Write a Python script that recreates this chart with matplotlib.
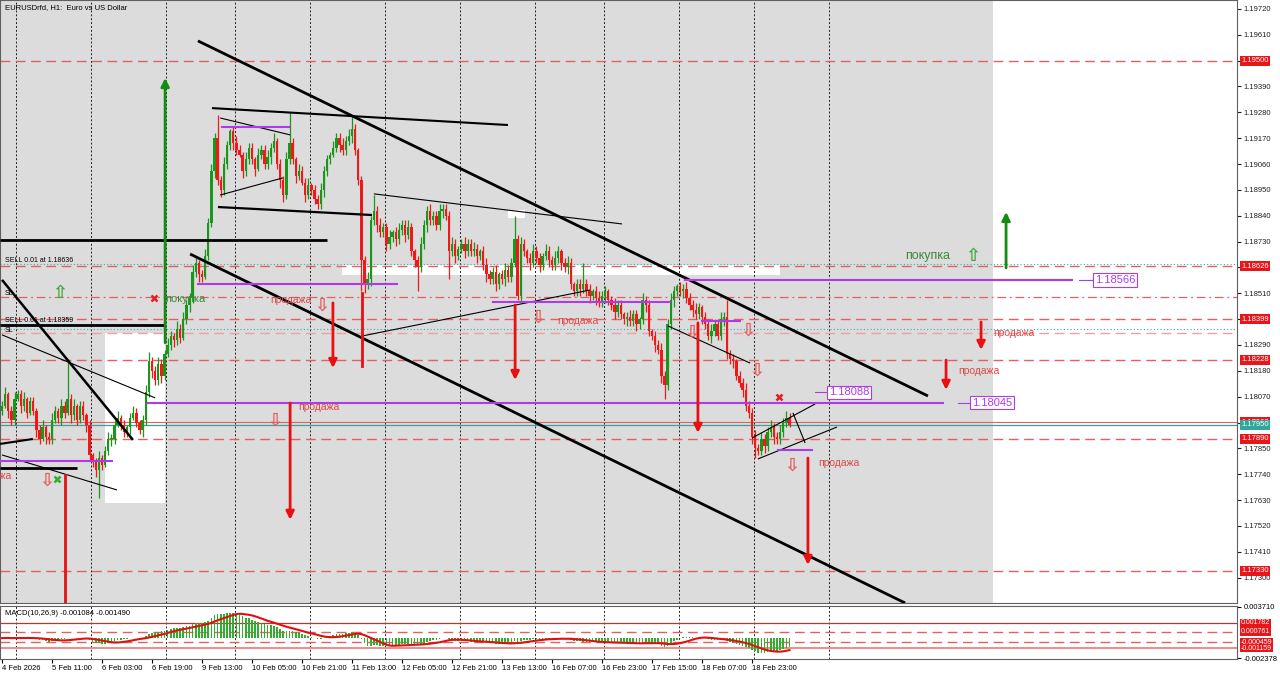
import numpy as np
import pandas as pd
import matplotlib
matplotlib.use("Agg")
import matplotlib.pyplot as plt
from matplotlib.patches import Rectangle

plt.rcParams['font.family'] = ['Liberation Sans', 'DejaVu Sans']

# ---------------- data ----------------
first_open = 1.1801
closes = [
1.1803, 1.1808, 1.1801, 1.1797, 1.1806, 1.1808, 1.1803, 1.1806, 1.1800, 1.1805,
1.1801, 1.1793, 1.1789, 1.1794, 1.1790, 1.1789, 1.1797, 1.1801, 1.1798, 1.1803,
1.1800, 1.1806, 1.1799, 1.1803, 1.1797, 1.1803, 1.1799, 1.1795, 1.1782, 1.1779,
1.1776, 1.1781, 1.1778, 1.1784, 1.1789, 1.1789, 1.1795, 1.1798, 1.1795, 1.1792,
1.1794, 1.1798, 1.1800, 1.1796, 1.1793, 1.1797, 1.1809, 1.1822, 1.1818, 1.1814,
1.1821, 1.1816, 1.1825, 1.1829, 1.1833, 1.1831, 1.1836, 1.1832, 1.1840, 1.1846,
1.1849, 1.1860, 1.1864, 1.1859, 1.1858, 1.1867, 1.1881, 1.1903, 1.1917, 1.1899,
1.1895, 1.1906, 1.1914, 1.1920, 1.1915, 1.1912, 1.1910, 1.1903, 1.1908, 1.1913,
1.1908, 1.1904, 1.1910, 1.1912, 1.1906, 1.1909, 1.1913, 1.1916, 1.1906, 1.1899,
1.1893, 1.1908, 1.1915, 1.1908, 1.1901, 1.1903, 1.1898, 1.1893, 1.1897, 1.1895,
1.1891, 1.1889, 1.1895, 1.1903, 1.1908, 1.1910, 1.1913, 1.1917, 1.1914, 1.1912,
1.1916, 1.1918, 1.1921, 1.1912, 1.1899, 1.1865, 1.1855, 1.1857, 1.1882, 1.1886,
1.1880, 1.1877, 1.1879, 1.1872, 1.1875, 1.1877, 1.1874, 1.1878, 1.1880, 1.1876,
1.1879, 1.1869, 1.1865, 1.1862, 1.1872, 1.1880, 1.1886, 1.1882, 1.1884, 1.1880,
1.1886, 1.1887, 1.1884, 1.1869, 1.1872, 1.1867, 1.1870, 1.1872, 1.1869, 1.1872,
1.1869, 1.1870, 1.1867, 1.1869, 1.1863, 1.1859, 1.1857, 1.1860, 1.1855, 1.1859,
1.1857, 1.1861, 1.1858, 1.1864, 1.1874, 1.1850, 1.1872, 1.1869, 1.1866, 1.1864,
1.1869, 1.1866, 1.1863, 1.1867, 1.1869, 1.1865, 1.1863, 1.1866, 1.1869, 1.1864,
1.1862, 1.1864, 1.1855, 1.1852, 1.1855, 1.1853, 1.1855, 1.1852, 1.1850, 1.1852,
1.1849, 1.1847, 1.1850, 1.1852, 1.1848, 1.1846, 1.1843, 1.1846, 1.1842, 1.1840,
1.1841, 1.1839, 1.1842, 1.1838, 1.1840, 1.1848, 1.1846, 1.1835, 1.1833, 1.1829,
1.1827, 1.1816, 1.1812, 1.1838, 1.1848, 1.1852, 1.1854, 1.1852, 1.1853, 1.1849,
1.1846, 1.1844, 1.1842, 1.1845, 1.1841, 1.1838, 1.1833, 1.1835, 1.1838, 1.1833,
1.1840, 1.1841, 1.1825, 1.1823, 1.1822, 1.1816, 1.1813, 1.1810, 1.1803, 1.1800,
1.1790, 1.1785, 1.1784, 1.1789, 1.1786, 1.1792, 1.1794, 1.1790, 1.1789, 1.1792,
1.1796, 1.1798, 1.1795]

# wick lengths in pips (0.0001)
up_wick = [
2,3,1,2,3,2,2,3,1,2, 2,1,2,3,1,2,3,2,1,3, 2,16,2,3,1,2,2,1,2,1,
2,3,1,2,3,2,2,3,1,2, 1,2,3,2,1,2,3,4,2,2, 3,2,2,3,2,1,3,2,3,2,
2,3,2,1,2,3,2,3,2,10, 2,3,2,1,2,3,2,1,3,2, 2,1,3,2,2,3,2,3,1,2,
2,3,13,2,1,3,2,2,3,1, 2,2,3,2,2,1,3,2,2,3, 2,3,5,2,1,2,2,3,2,7,
2,3,2,2,3,1,2,3,2,2, 3,2,1,2,3,2,2,3,2,2, 3,2,2,2,3,2,1,2,3,2,
2,3,2,1,2,3,2,2,3,1, 2,3,2,2,10,2,3,2,1,2, 3,2,2,1,3,2,2,3,2,1,
2,3,2,1,2,2,9,2,3,1, 2,3,2,2,1,2,3,2,2,1, 2,3,2,2,1,3,2,2,1,2,
2,3,2,2,3,2,1,2,2,3, 2,2,3,2,1,2,2,3,2,2, 3,2,7,2,2,1,2,2,3,2,
2,3,2,3,2,2,3,2,2,3, 2,3,2]
down_wick = [
2,1,3,2,2,1,3,2,2,1, 2,3,2,1,3,2,2,1,2,3, 2,1,3,2,2,1,2,3,2,2,
3,12,2,1,2,3,2,1,2,2, 2,3,1,2,2,3,2,2,3,2, 2,3,2,1,2,3,2,2,1,2,
3,2,2,3,2,1,2,2,3,2, 3,2,2,2,3,2,1,3,2,2, 2,3,1,2,2,2,3,2,2,3,
3,2,2,2,3,2,1,3,2,2, 2,2,2,3,2,2,1,2,3,2, 2,2,3,2,2,13,4,2,3,2,
3,2,2,3,2,2,3,2,2,3, 2,2,3,10,2,2,3,2,2,2, 2,3,2,12,2,3,2,2,3,2,
2,2,3,2,2,3,2,2,3,2, 2,3,2,2,2,2,3,2,2,3, 2,2,3,2,2,3,2,2,2,3,
2,3,2,2,2,3,2,2,3,2, 3,2,2,3,2,2,3,2,2,2, 3,2,2,3,2,2,3,2,2,3,
2,3,6,2,2,3,2,2,3,2, 2,3,2,2,3,2,2,3,2,2, 2,3,2,2,3,2,2,3,2,2,
3,4,2,2,3,2,2,3,2,2, 2,2,1]

time_labels = ["4 Feb 2026", "5 Feb 11:00", "6 Feb 03:00", "6 Feb 19:00", "9 Feb 13:00",
               "10 Feb 05:00", "10 Feb 21:00", "11 Feb 13:00", "12 Feb 05:00", "12 Feb 21:00",
               "13 Feb 13:00", "16 Feb 07:00", "16 Feb 23:00", "17 Feb 15:00", "18 Feb 07:00",
               "18 Feb 23:00"]
time_label_bars = [0, 16, 32, 48, 64, 80, 96, 112, 128, 144, 160, 176, 192, 208, 224, 240]
day_separators = [4.5, 28.5, 52.5, 74.5, 98.5, 122.5, 146.5, 170.5, 192.5, 216.5, 240.5, 264.5]

price_ticks = [1.19720, 1.19610, 1.19500, 1.19390, 1.19280, 1.19170, 1.19060, 1.18950,
               1.18840, 1.18730, 1.18620, 1.18510, 1.18400, 1.18290, 1.18180, 1.18070,
               1.17960, 1.17850, 1.17740, 1.17630, 1.17520, 1.17410, 1.17300]
hidden_tick_labels = [1.19500, 1.18620, 1.18400, 1.17960]

macd_caption = "MACD(10,26,9) -0.001084 -0.001490"

# horizontal levels: (price, kind)
levels = [(1.19500, 'dash'), (1.18626, 'dash'), (1.18636, 'dot'), (1.18494, 'dashdot'),
          (1.18399, 'dash'), (1.18359, 'dot'), (1.18341, 'lightdash'), (1.18228, 'dash'),
          (1.17962, 'solid'), (1.17950, 'teal'), (1.17890, 'dash'), (1.17330, 'dash')]
level_boxes = [(1.19500, 'red'), (1.18626, 'red'), (1.18399, 'red'), (1.18228, 'red'),
               (1.17962, 'red'), (1.17950, 'teal'), (1.17890, 'red'), (1.17330, 'red')]

# trend lines: (bar1, price1, bar2, price2, width)
trend_lines = [
    (62.7, 1.19584, 296.3, 1.18073, 2.0),
    (60.2, 1.18677, 289.0, 1.17192, 2.0),
    (-0.6, 1.18737, 104.0, 1.18737, 2.0),
    (-0.6, 1.18375, 52.2, 1.18375, 2.0),
    (-0.6, 1.17767, 24.0, 1.17767, 2.0),
    (0.0, 1.18567, 41.9, 1.17886, 1.8),
    (0.0, 1.18333, 49.0, 1.18065, 0.8),
    (0.0, 1.17822, 36.8, 1.17673, 0.8),
    (-0.6, 1.17869, 9.9, 1.17890, 1.5),
    (69.8, 1.19256, 92.2, 1.19184, 0.8),
    (69.8, 1.18928, 89.9, 1.19001, 0.8),
    (67.2, 1.19298, 161.9, 1.19226, 1.5),
    (69.1, 1.18877, 118.4, 1.18843, 1.6),
    (119.0, 1.18933, 198.4, 1.18805, 0.8),
    (115.2, 1.18328, 188.2, 1.18524, 0.8),
    (213.1, 1.18371, 239.4, 1.18213, 0.8),
    (240.0, 1.17894, 260.2, 1.18039, 0.8),
    (241.9, 1.17805, 267.2, 1.17941, 0.8),
    (253.1, 1.18001, 257.0, 1.17873, 0.8),
]

# purple levels: (bar1, bar2, price)
purple_levels = [(-0.6, 35.2, 1.17796), (46.7, 301.1, 1.18045), (62.7, 126.4, 1.18550),
                 (70.4, 91.8, 1.19218), (157.1, 213.8, 1.18473), (218.6, 342.4, 1.18566),
                 (224.0, 236.2, 1.18392), (248.3, 259.2, 1.17843)]
# purple price tags: (leader start bar, tag bar, price)
purple_tags = [(344.6, 349.8, 1.18566), (305.9, 310.4, 1.18045), (260.2, 264.6, 1.18088)]

# solid arrows: (bar, price_from, price_to, colour, head)
solid_arrows = [
    (92.2, 1.18043, 1.17546, 'red', True),
    (105.9, 1.18469, 1.18192, 'red', True),
    (164.2, 1.18460, 1.18141, 'red', True),
    (222.7, 1.18384, 1.17916, 'red', True),
    (313.3, 1.18388, 1.18269, 'red', True),
    (302.1, 1.18226, 1.18099, 'red', True),
    (257.9, 1.17809, 1.17354, 'red', True),
    (20.2, 1.17737, 1.17100, 'red', False),
    (115.2, 1.18511, 1.18201, 'red', False),
    (52.2, 1.18299, 1.19426, 'green', True),
    (321.3, 1.18618, 1.18856, 'green', True),
]
# hollow arrows: (bar, price, direction)
hollow_arrows = [(18.6, 1.18511, 'up'), (14.4, 1.17711, 'down'), (87.4, 1.17967, 'down'),
                 (102.4, 1.18456, 'down'), (171.5, 1.18405, 'down'), (220.8, 1.18341, 'down'),
                 (238.7, 1.18350, 'down'), (241.6, 1.18179, 'down'), (252.8, 1.17775, 'down'),
                 (310.7, 1.18669, 'up')]
crosses = [(48.6, 1.18490, 'red'), (248.6, 1.18069, 'red'), (17.6, 1.17720, 'green')]
sell_texts = [(85.8, 1.18482), (94.7, 1.18026), (177.6, 1.18392), (317.1, 1.18341),
              (305.9, 1.18179), (261.1, 1.17788), (-10.2, 1.17733)]
buy_texts = [(52.2, 1.18486, 8), (289.0, 1.18669, 9)]
white_boxes = [(33.0, 52.2, 1.17618, 1.18341), (108.8, 249.0, 1.18588, 1.18631),
               (161.9, 167.4, 1.18830, 1.18865)]
gray_until_bar = 317.1

macd_levels = [(0.001782, 'solid'), (0.000761, 'dash'), (-0.000459, 'dash'), (-0.001159, 'light')]

# ---------------- colours ----------------
BULL = '#1a961a'
BEAR = '#f01818'
PURPLE = '#b03ae8'
TEAL = '#2fa79a'
DASH_RED = '#e36060'

# ---------------- figure ----------------
W, H = 1280, 676
fig = plt.figure(figsize=(W / 100, H / 100), dpi=100)
ax = fig.add_axes([0.0, (H - 603) / H, 1237 / W, 603 / H])
axm = fig.add_axes([0.0, (H - 659) / H, 1237 / W, 53 / H], sharex=ax)

xmin, xmax = -0.64, 395.2
ax.set_xlim(xmin, xmax)
ax.set_ylim(1.17192, 1.19758)
ax.set_facecolor('white')
ax.axvspan(xmin, gray_until_bar, color='#dcdcdc', zorder=0, lw=0)

for b0, b1, p0, p1 in white_boxes:
    ax.add_patch(Rectangle((b0, p0), b1 - b0, p1 - p0, facecolor='white', edgecolor='none', zorder=0.5))

for d in day_separators:
    ax.axvline(d, color='#202020', lw=0.7, ls=(0, (2, 2)), zorder=1)
    axm.axvline(d, color='#202020', lw=0.7, ls=(0, (2, 2)), zorder=1)

for p, kind in levels:
    if kind == 'dash':
        ax.axhline(p, color=DASH_RED, lw=1.0, ls=(0, (7, 4)), zorder=1.2)
    elif kind == 'lightdash':
        ax.axhline(p, color='#f0a0a0', lw=1.0, ls=(0, (7, 4)), zorder=1.2)
    elif kind == 'dashdot':
        ax.axhline(p, color=DASH_RED, lw=0.9, ls=(0, (7, 3, 1.5, 3)), zorder=1.2)
    elif kind == 'dot':
        ax.axhline(p, color='#3aaabb', lw=0.8, ls=(0, (1, 2)), zorder=1.2)
    elif kind == 'solid':
        ax.axhline(p, color='#e06060', lw=0.8, zorder=1.2)
    elif kind == 'teal':
        ax.axhline(p, color=TEAL, lw=0.9, zorder=1.2)

# candles
n = len(closes)
opens = [first_open] + closes[:-1]
idx = np.arange(n)
for i in range(n):
    o, c = opens[i], closes[i]
    col = BULL if c >= o else BEAR
    hi = max(o, c) + up_wick[i] * 0.0001
    lo = min(o, c) - down_wick[i] * 0.0001
    ax.vlines(i, lo, hi, color=col, lw=0.9, zorder=3)
    body = max(abs(c - o), 0.00003)
    ax.bar(i, body, bottom=min(o, c), width=0.75, color=col, lw=0, zorder=3.1)

for b1, p1, b2, p2, w in trend_lines:
    ax.plot([b1, b2], [p1, p2], color='black', lw=w, zorder=4, solid_capstyle='butt')

for b1, b2, p in purple_levels:
    ax.plot([b1, b2], [p, p], color=PURPLE, lw=1.5, zorder=4)
for b_lead, b_tag, p in purple_tags:
    ax.plot([b_lead, b_tag], [p, p], color=PURPLE, lw=0.8, zorder=4)
    ax.text(b_tag, p, f"{p:.5f}", color=PURPLE, fontsize=8, va='center', ha='left', zorder=6,
            bbox=dict(boxstyle='square,pad=0.15', fc='white', ec=PURPLE, lw=0.8))

for b, pf, pt, col, head in solid_arrows:
    c_ = '#e81010' if col == 'red' else '#138c13'
    if head:
        ax.annotate('', xy=(b, pt), xytext=(b, pf),
                    arrowprops=dict(arrowstyle='-|>', color=c_, lw=2.0, mutation_scale=12,
                                    shrinkA=0, shrinkB=0), zorder=5)
    else:
        ax.plot([b, b], [pf, pt], color=c_, lw=2.0, zorder=5)

for b, p, d in hollow_arrows:
    sym = '\u21e7' if d == 'up' else '\u21e9'
    col = '#3da83d' if d == 'up' else '#e85c5c'
    ax.text(b, p, sym, color=col, fontsize=13, ha='center', va='center', zorder=6,
            family=['DejaVu Sans'], fontweight='bold')

for b, p, col in crosses:
    ax.plot([b], [p], marker='x', ms=5, mew=1.8, color='#e02020' if col == 'red' else '#30b030', zorder=6)

for b, p in sell_texts:
    ax.text(b, p, 'продажа', color='#e04848', fontsize=7.5, ha='left', va='center', zorder=6)
for b, p, fs in buy_texts:
    ax.text(b, p, 'покупка', color='#3a8a3a', fontsize=fs, ha='left', va='center', zorder=6)

ax.text(0.004, 0.987, 'EURUSDrfd, H1:  Euro vs US Dollar', transform=ax.transAxes,
        fontsize=5.5, va='center', ha='left', color='black', zorder=7)
ax.text(1.0, 1.18636, 'SELL 0.01 at 1.18636', fontsize=5, va='bottom', ha='left', color='black', zorder=7)
ax.text(1.0, 1.18380, 'SELL 0.01 at 1.18359', fontsize=5, va='bottom', ha='left', color='black', zorder=7)
ax.text(1.0, 1.18494, 'SL', fontsize=5, va='bottom', ha='left', color='black', zorder=7)
ax.text(1.0, 1.18365, 'SL', fontsize=5, va='top', ha='left', color='black', zorder=7)

# right price axis
ax.yaxis.tick_right()
ax.set_yticks(price_ticks)
ax.set_yticklabels(["" if t in hidden_tick_labels else f"{t:.5f}" for t in price_ticks])
ax.tick_params(axis='y', labelsize=5.5, length=3, pad=2, colors='#202020')
ax.tick_params(axis='x', bottom=False, labelbottom=False)
for s in ax.spines.values():
    s.set_color('#606060'); s.set_linewidth(0.8)

for p, kind in level_boxes:
    fc = '#e8161a' if kind == 'red' else TEAL
    ax.annotate(f"{p:.5f}", xy=(1.0, p), xycoords=('axes fraction', 'data'),
                xytext=(3, 0), textcoords='offset points', fontsize=5.5, color='white',
                va='center', ha='left', annotation_clip=False, zorder=8,
                bbox=dict(boxstyle='square,pad=0.2', fc=fc, ec='none'))

# ---------------- MACD ----------------
s = pd.Series(closes)
macd = s.ewm(span=10, adjust=False).mean() - s.ewm(span=26, adjust=False).mean()
signal = macd.rolling(9, min_periods=1).mean()

axm.set_ylim(-0.00245, 0.00378)
axm.set_facecolor('white')
for p, kind in macd_levels:
    if kind == 'solid':
        axm.axhline(p, color='#c83030', lw=0.9, zorder=1)
    elif kind == 'dash':
        axm.axhline(p, color=DASH_RED, lw=1.0, ls=(0, (7, 4)), zorder=1)
    else:
        axm.axhline(p, color='#f08a8a', lw=1.4, zorder=1)
axm.bar(idx, macd.values, width=0.5, color='#2fae2f', lw=0, zorder=2)
axm.plot(idx, signal.values, color='#e01010', lw=1.5, zorder=3)
axm.text(0.004, 0.86, macd_caption, transform=axm.transAxes, fontsize=5.5, va='center', ha='left')
axm.yaxis.tick_right()
axm.set_yticks([0.003710, -0.002378])
axm.set_yticklabels(['0.003710', '-0.002378'])
axm.tick_params(axis='y', labelsize=5.5, length=3, pad=2)
for p, kind in macd_levels:
    axm.annotate(f"{p:.6f}", xy=(1.0, p), xycoords=('axes fraction', 'data'),
                 xytext=(3, 0), textcoords='offset points', fontsize=5.0, color='white',
                 va='center', ha='left', annotation_clip=False, zorder=8,
                 bbox=dict(boxstyle='square,pad=0.1', fc='#e8161a', ec='none'))
axm.set_xticks(time_label_bars)
axm.set_xticklabels(time_labels, ha='left')
axm.tick_params(axis='x', labelsize=5.5, length=3, pad=1)
for s_ in axm.spines.values():
    s_.set_color('#606060'); s_.set_linewidth(0.8)

fig.savefig('out.png', dpi=100, facecolor='white')
